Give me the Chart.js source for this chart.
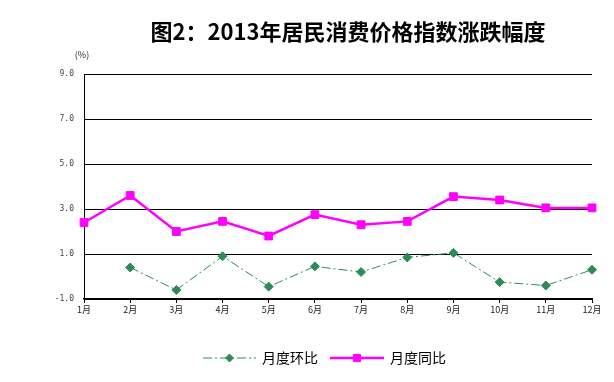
<!DOCTYPE html>
<html><head><meta charset="utf-8">
<script src="https://cdn.jsdelivr.net/npm/chart.js@4/dist/chart.umd.min.js"></script>
<style>html,body{margin:0;padding:0;background:#fff}#wrap{width:614px;height:382px}</style>
</head><body><div id="wrap"><canvas id="c" width="614" height="382"></canvas></div>
<script>
const titleText = "图2：2013年居民消费价格指数涨跌幅度";
const unitLabel = "(%)";
const months = ["1月","2月","3月","4月","5月","6月","7月","8月","9月","10月","11月","12月"];
const momName = "月度环比";
const yoyName = "月度同比";
const momValues = [null, 0.4, -0.6, 0.9, -0.45, 0.45, 0.2, 0.85, 1.05, -0.25, -0.4, 0.3];
const yoyValues = [2.4, 3.6, 2.0, 2.45, 1.8, 2.75, 2.3, 2.45, 3.55, 3.4, 3.05, 3.05];
const yMin = -1, yMax = 9, yStep = 2;

const GREEN = "#2e8b57", MAGENTA = "#ff00ff";
const CJK = '"Noto Sans CJK SC", "Noto Sans", sans-serif';

const extras = {
  id: "extras",
  afterDraw(chart) {
    const ctx = chart.ctx;
    ctx.save();
    // title
    ctx.fillStyle = "#000";
    ctx.font = "bold 22px " + CJK;
    ctx.textAlign = "center";
    ctx.textBaseline = "middle";
    ctx.fillText(titleText, 348, 32);
    // unit
    ctx.font = "9px " + CJK;
    ctx.fillStyle = "#333";
    ctx.fillText(unitLabel, 82, 55);
    // legend
    const items = [
      {ds: chart.data.datasets[0], x0: 203, x1: 256, tx: 262},
      {ds: chart.data.datasets[1], x0: 330, x1: 384, tx: 390}
    ];
    const ly = 358;
    items.forEach(it => {
      const ds = it.ds;
      ctx.strokeStyle = ds.borderColor;
      ctx.lineWidth = ds.borderWidth;
      ctx.setLineDash(ds.borderDash || []);
      ctx.beginPath(); ctx.moveTo(it.x0, ly); ctx.lineTo(it.x1, ly); ctx.stroke();
      ctx.setLineDash([]);
      ctx.fillStyle = ds.pointBackgroundColor;
      ctx.strokeStyle = ds.pointBorderColor;
      ctx.lineWidth = 1;
      Chart.helpers.drawPoint(ctx, {pointStyle: ds.pointStyle, radius: ds.pointRadius - 0.5, rotation: 0, borderWidth: 1}, (it.x0 + it.x1) / 2, ly);
      ctx.fillStyle = "#000";
      ctx.font = "14px " + CJK;
      ctx.textAlign = "left";
      ctx.textBaseline = "middle";
      ctx.fillText(ds.label, it.tx, ly);
    });
    ctx.restore();
  }
};

new Chart(document.getElementById("c"), {
  type: "line",
  data: {
    labels: months,
    datasets: [
      {
        label: momName, data: momValues,
        borderColor: GREEN, borderWidth: 1, borderDash: [9, 3, 2, 3],
        pointStyle: "rectRot", pointRadius: 4.5,
        pointBackgroundColor: GREEN, pointBorderColor: GREEN, pointBorderWidth: 1,
        fill: false, tension: 0, spanGaps: false
      },
      {
        label: yoyName, data: yoyValues,
        borderColor: MAGENTA, borderWidth: 2.5,
        pointStyle: "rect", pointRadius: 5.5,
        pointBackgroundColor: MAGENTA, pointBorderColor: MAGENTA, pointBorderWidth: 1,
        fill: false, tension: 0
      }
    ]
  },
  options: {
    responsive: false, animation: false, devicePixelRatio: 1,
    layout: {padding: {left: 0, top: 74, right: 22, bottom: 0}},
    plugins: {legend: {display: false}, title: {display: false}, tooltip: {enabled: false}},
    scales: {
      x: {
        offset: false,
        grid: {drawOnChartArea: false, drawTicks: true, tickLength: 4, color: "#000", lineWidth: 1},
        border: {color: "#000", width: 1.5},
        ticks: {color: "#222", font: {size: 9, family: CJK}, padding: 1, maxRotation: 0, autoSkip: false},
        afterFit(s) { s.height = 83; }
      },
      y: {
        min: yMin, max: yMax,
        grid: {drawTicks: false, color: "#000", lineWidth: 1},
        border: {color: "#000", width: 1},
        ticks: {stepSize: yStep, color: "#444", padding: 10, font: {size: 8, family: '"DejaVu Sans Mono", monospace'},
          callback: v => Number(v).toFixed(1)},
        afterFit(s) { s.width = 84; }
      }
    }
  },
  plugins: [extras]
});
</script></body></html>
